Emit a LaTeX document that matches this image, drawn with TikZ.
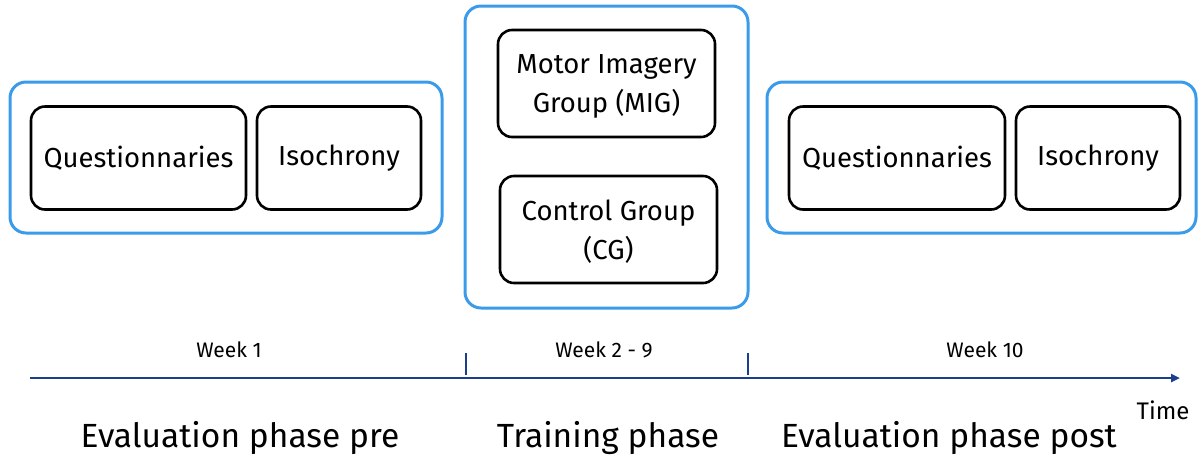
\documentclass[tikz,border=0pt]{standalone}
\usepackage{fontspec}
\setmainfont{Fira Sans}
\usetikzlibrary{arrows.meta}
\definecolor{frameblue}{HTML}{3A9BEA}
\definecolor{axisblue}{HTML}{1C3F8C}
\begin{document}
\begin{tikzpicture}[x=1pt,y=-1pt,
  phasebox/.style={draw=frameblue,line width=3pt,rounded corners=16pt},
  itembox/.style={draw=black,line width=2.6pt,rounded corners=14pt,align=center,font=\fontsize{27.5}{39}\selectfont},
  weeklbl/.style={font=\fontsize{21}{24}\selectfont},
  phaselbl/.style={font=\fontsize{33.5}{38}\selectfont},
  tick/.style={draw=axisblue,line width=2.2pt}]
\useasboundingbox (0,0) rectangle (1198,459);
% phase frames
\draw[phasebox] (10,82) rectangle (442,233);
\draw[phasebox] (465,6) rectangle (748,308);
\draw[phasebox] (767,82) rectangle (1196,233);
% items
\node[itembox,minimum width=215pt,minimum height=103pt] (q1) at (138.5,158) {Questionnaries};
\node[itembox,minimum width=164pt,minimum height=103pt] (i1) at (339,158) {Isochrony};
\node[itembox,minimum width=217pt,minimum height=107pt,text depth=-2pt] (mig) at (606.5,83.5) {Motor Imagery\\Group (MIG)};
\node[itembox,minimum width=217pt,minimum height=107pt,text depth=-2pt] (cg) at (608.5,229.5) {Control Group\\(CG)};
\node[itembox,minimum width=216pt,minimum height=103pt] (q2) at (897,158) {Questionnaries};
\node[itembox,minimum width=164pt,minimum height=103pt] (i2) at (1098,158) {Isochrony};
% time axis
\coordinate (tstart) at (30,378);
\coordinate (tend) at (1180,378);
\draw[draw=axisblue,line width=2.4pt,-{Triangle[length=9pt,width=8pt]}] (tstart) -- (tend);
\coordinate (t1a) at (466,353);
\coordinate (t1b) at (466,375);
\coordinate (t2a) at (748,353);
\coordinate (t2b) at (748,375);
\draw[tick] (t1a) -- (t1b);
\draw[tick] (t2a) -- (t2b);
\node[weeklbl] (w1) at (229,350) {Week 1};
\node[weeklbl] (w2) at (604,350) {Week 2 - 9};
\node[weeklbl] (w3) at (985,350) {Week 10};
\node[font=\fontsize{24}{28}\selectfont] (time) at (1163,410) {Time};
\node[phaselbl] (p1) at (240,438) {Evaluation phase pre};
\node[phaselbl] (p2) at (608,438) {Training phase};
\node[phaselbl] (p3) at (949,438) {Evaluation phase post};
\end{tikzpicture}
\end{document}
